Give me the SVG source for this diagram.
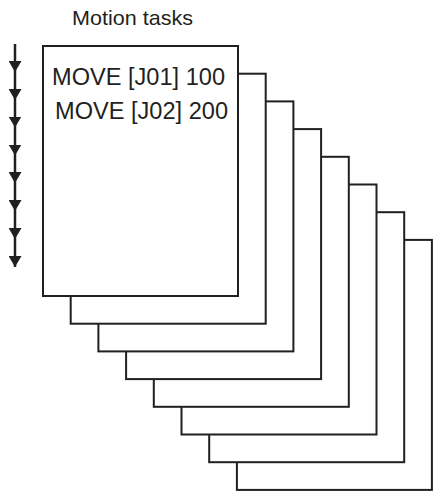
<svg xmlns="http://www.w3.org/2000/svg" width="443" height="501" viewBox="0 0 443 501">
  <defs>
    <style>
      .page { fill: #ffffff; stroke: #231f20; stroke-width: 2; }
      .lbl { font-family: "Liberation Sans", Arial, sans-serif; fill: #231f20; }
      .flow { fill: none; stroke: #231f20; stroke-width: 2.5; }
    </style>
    <marker id="ah" viewBox="0 0 11 13" refX="11" refY="6.5" markerWidth="11" markerHeight="13" markerUnits="userSpaceOnUse" orient="auto">
      <path d="M0,0 L11,6.5 L0,13 z" fill="#231f20"/>
    </marker>
  </defs>
  <rect width="443" height="501" fill="#ffffff"/>

  <text class="lbl" x="72" y="25" font-size="21" textLength="121" lengthAdjust="spacingAndGlyphs">Motion tasks</text>

  <g id="task8"><rect class="page" x="236.9" y="239.9" width="195" height="250"/></g>
  <g id="task7"><rect class="page" x="209.2" y="212.2" width="195" height="250"/></g>
  <g id="task6"><rect class="page" x="181.5" y="184.5" width="195" height="250"/></g>
  <g id="task5"><rect class="page" x="153.8" y="156.8" width="195" height="250"/></g>
  <g id="task4"><rect class="page" x="126.1" y="129.1" width="195" height="250"/></g>
  <g id="task3"><rect class="page" x="98.4" y="101.4" width="195" height="250"/></g>
  <g id="task2"><rect class="page" x="70.7" y="73.7" width="195" height="250"/></g>
  <g id="task1">
    <rect class="page" x="43" y="46" width="195" height="250"/>
    <text class="lbl" x="52" y="84.5" font-size="23.5" textLength="173" lengthAdjust="spacingAndGlyphs">MOVE [J01] 100</text>
    <text class="lbl" x="55" y="118.5" font-size="23.5" textLength="173" lengthAdjust="spacingAndGlyphs">MOVE [J02] 200</text>
  </g>

  <g id="connectors">
    <path class="flow" d="M15,44 L15,72 L15,100 L15,127.5 L15,155.5 L15,183 L15,211 L15,239 L15,267" marker-mid="url(#ah)" marker-end="url(#ah)"/>
  </g>
</svg>
